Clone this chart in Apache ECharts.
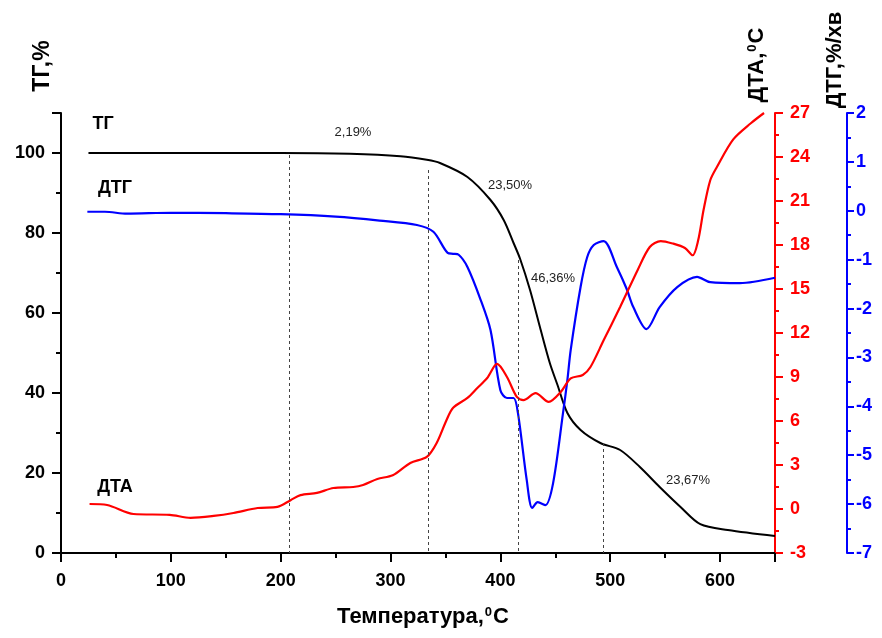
<!DOCTYPE html>
<html>
<head>
<meta charset="utf-8">
<script src="https://cdn.jsdelivr.net/npm/echarts@6/dist/echarts.min.js"></script>
<style>
html,body{margin:0;padding:0;background:#fff;}
#chart{width:882px;height:638px;}
</style>
</head>
<body>
<div id="chart"></div>
<script>
// ---- Data ----
var tgT = [25, 100, 200, 263, 309, 333, 345, 370, 391, 403, 412, 418, 427, 436, 445, 452, 461, 473, 491, 509, 527, 545, 564, 582, 607, 650];
var tgV = [100, 100, 100, 99.8, 99.2, 98.3, 97.5, 94, 88.25, 83.25, 77.5, 73.5, 65.75, 56.5, 47.5, 42, 35, 30.75, 27.5, 25.75, 21.5, 16.5, 11.5, 7.2, 5.75, 4.25];

var dtgT = [24, 40, 60, 100, 150, 200, 250, 290, 324, 339, 352, 357, 362, 370, 382, 391, 400, 406, 412, 416, 424, 429, 434, 441, 448, 457, 461, 464, 473, 479, 485, 494, 506, 515, 521, 533, 545, 561, 579, 591, 618, 650];
var dtgV = [-0.02, -0.02, -0.06, -0.04, -0.05, -0.07, -0.12, -0.2, -0.29, -0.43, -0.86, -0.88, -0.9, -1.15, -1.82, -2.44, -3.67, -3.83, -3.83, -4.14, -5.51, -6.08, -5.96, -6.02, -5.57, -4.14, -3.46, -2.85, -1.56, -0.95, -0.7, -0.62, -1.15, -1.6, -1.97, -2.42, -1.97, -1.56, -1.35, -1.46, -1.48, -1.37];

var dtaT = [26, 42, 66, 99, 118, 139, 157, 179, 197, 209, 218, 233, 248, 266, 275, 288, 302, 318, 333, 342, 351, 357, 370, 379, 388, 397, 406, 415, 421, 432, 444, 455, 464, 475, 482, 494, 509, 525, 536, 546, 557, 568, 575, 580, 585, 591, 597, 612, 628, 640];
var dtaV = [0.34, 0.27, -0.34, -0.4, -0.6, -0.47, -0.27, 0.07, 0.14, 0.6, 0.95, 1.1, 1.43, 1.5, 1.64, 2.05, 2.3, 3.14, 3.55, 4.5, 6.07, 6.9, 7.57, 8.25, 8.93, 9.89, 9.0, 7.64, 7.43, 7.9, 7.3, 7.98, 8.9, 9.14, 9.68, 11.5, 13.77, 16.3, 17.86, 18.27, 18.1, 17.8, 17.3, 18.3, 20.4, 22.4, 23.3, 25.2, 26.3, 27];

// dashed vertical markers: temperature and TG value where the line starts
var markT = [207.7, 334.2, 416.2, 493.6];
var markTop = [99.5, 95.75, 73.25, 27.5];

// annotations
var annoText = ['2,19%', '23,50%', '46,36%', '23,67%'];
var annoPos = [[353, 132], [510, 185], [553, 278], [688, 480]];

var xTicks = [0, 100, 200, 300, 400, 500, 600];

function pairs(xs, ys) { return xs.map(function (x, i) { return [x, ys[i]]; }); }

var chart = echarts.init(document.getElementById('chart'), null, {renderer: 'canvas'});
var FONT = 'Arial, "Liberation Sans", sans-serif';
var lblStyle = function (c) { return {color: c, fontSize: 18, fontWeight: 'bold', fontFamily: FONT}; };

var markLines = markT.map(function (t, i) {
  return [{coord: [t, markTop[i]]}, {coord: [t, 0]}];
});

var graphics = [];
annoText.forEach(function (s, i) {
  graphics.push({type: 'text', x: annoPos[i][0], y: annoPos[i][1],
    style: {text: s, fill: '#222', font: '13px ' + FONT, textAlign: 'center', textVerticalAlign: 'middle'}});
});
// series labels
[['ТГ', 103, 124], ['ДТГ', 115, 188], ['ДТА', 115, 487]].forEach(function (a) {
  graphics.push({type: 'text', x: a[1], y: a[2],
    style: {text: a[0], fill: '#000', font: 'bold 18px ' + FONT, textAlign: 'center', textVerticalAlign: 'middle'}});
});
// axis titles
function titleRich(main, tail) {
  return {
    text: '{a|' + main + '}{s|0}{a|' + tail + '}',
    rich: {
      a: {fontSize: 22, fontWeight: 'bold', fontFamily: FONT, fill: '#000', color: '#000'},
      s: {fontSize: 13, fontWeight: 'bold', fontFamily: FONT, fill: '#000', color: '#000', verticalAlign: 'top', padding: [0, 1, 10, 1]}
    },
    textAlign: 'center', textVerticalAlign: 'middle'
  };
}
graphics.push({type: 'text', x: 43, y: 66, rotation: Math.PI / 2,
  style: {text: 'ТГ,%', fill: '#000', font: 'bold 23px ' + FONT, textAlign: 'center', textVerticalAlign: 'middle'}});
graphics.push({type: 'text', x: 757, y: 65, rotation: Math.PI / 2, style: titleRich('ДТА,', 'C')});
graphics.push({type: 'text', x: 835, y: 60, rotation: Math.PI / 2,
  style: {text: 'ДТГ,%/хв', fill: '#000', font: 'bold 22px ' + FONT, textAlign: 'center', textVerticalAlign: 'middle'}});
graphics.push({type: 'text', x: 423, y: 617, style: titleRich('Температура,', 'C')});

var option = {
  animation: false,
  backgroundColor: '#fff',
  grid: {left: 61, right: 107, top: 113, bottom: 85, containLabel: false},
  xAxis: {
    type: 'value', min: 0, max: 650, interval: 100,
    axisLine: {show: true, onZero: false, lineStyle: {color: '#000', width: 2}},
    axisTick: {show: true, inside: false, length: 9, lineStyle: {color: '#000', width: 2}},
    minorTick: {show: true, splitNumber: 2, length: 5, lineStyle: {color: '#000', width: 2}},
    axisLabel: {showMaxLabel: false, margin: 19, color: '#000', fontSize: 18, fontWeight: 'bold', fontFamily: FONT,
      formatter: function (v) { return xTicks.indexOf(v) >= 0 ? String(v) : ''; }},
    splitLine: {show: false}
  },
  yAxis: [
    {
      type: 'value', min: 0, max: 110, interval: 20, position: 'left',
      axisLine: {show: true, onZero: false, lineStyle: {color: '#000', width: 2}},
      axisTick: {show: true, length: 9, lineStyle: {color: '#000', width: 2}},
      minorTick: {show: true, splitNumber: 2, length: 5, lineStyle: {color: '#000', width: 2}},
      axisLabel: Object.assign({showMaxLabel: false, margin: 16}, lblStyle('#000')),
      splitLine: {show: false}
    },
    {
      type: 'value', min: -3, max: 27, interval: 3, position: 'right', offset: 0,
      axisLine: {show: true, onZero: false, lineStyle: {color: '#ff0000', width: 2}},
      axisTick: {show: true, length: 8, lineStyle: {color: '#ff0000', width: 2}},
      minorTick: {show: true, splitNumber: 2, length: 4, lineStyle: {color: '#ff0000', width: 2}},
      axisLabel: Object.assign({margin: 15}, lblStyle('#ff0000')),
      splitLine: {show: false}
    },
    {
      type: 'value', min: -7, max: 2, interval: 1, position: 'right', offset: 72,
      axisLine: {show: true, onZero: false, lineStyle: {color: '#0000ff', width: 2}},
      axisTick: {show: true, length: 7, lineStyle: {color: '#0000ff', width: 2}},
      minorTick: {show: true, splitNumber: 2, length: 4, lineStyle: {color: '#0000ff', width: 2}},
      axisLabel: Object.assign({margin: 9}, lblStyle('#0000ff')),
      splitLine: {show: false}
    }
  ],
  series: [
    {
      name: 'ТГ', type: 'line', yAxisIndex: 0, data: pairs(tgT, tgV), smooth: 0.3,
      showSymbol: false, lineStyle: {color: '#000', width: 2}, itemStyle: {color: '#000'},
      markLine: {silent: true, symbol: ['none', 'none'], label: {show: false},
        lineStyle: {color: '#444', width: 1, type: [3, 3]}, data: markLines}
    },
    {
      name: 'ДТГ', type: 'line', yAxisIndex: 2, data: pairs(dtgT, dtgV), smooth: 0.3,
      showSymbol: false, lineStyle: {color: '#0000ff', width: 2.2}, itemStyle: {color: '#0000ff'}
    },
    {
      name: 'ДТА', type: 'line', yAxisIndex: 1, data: pairs(dtaT, dtaV), smooth: 0.3,
      showSymbol: false, lineStyle: {color: '#ff0000', width: 2.2}, itemStyle: {color: '#ff0000'}
    }
  ],
  graphic: graphics
};
chart.setOption(option);
</script>
</body>
</html>
